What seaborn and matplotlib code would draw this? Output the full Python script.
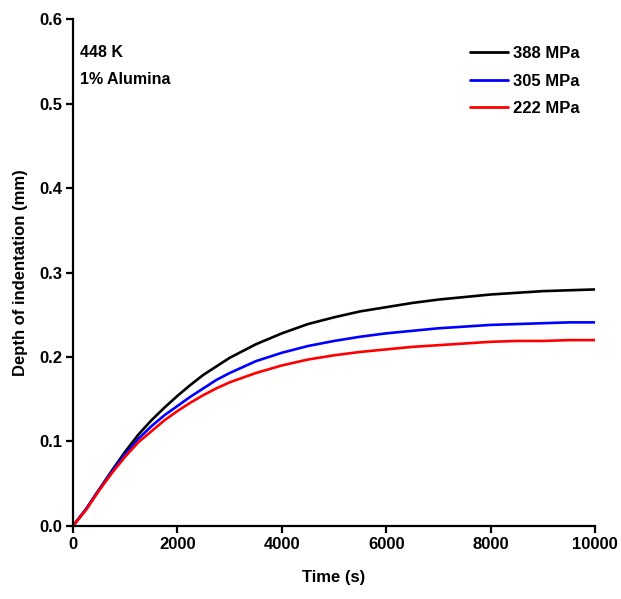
import matplotlib
matplotlib.use("Agg")
import matplotlib.pyplot as plt
import seaborn as sns
import pandas as pd

time_s = [0, 250, 500, 750, 1000, 1250, 1500, 1750, 2000, 2250, 2500, 2750, 3000, 3500, 4000,
          4500, 5000, 5500, 6000, 6500, 7000, 7500, 8000, 8500, 9000, 9500, 10000]
depth_388 = [0, 0.020, 0.043, 0.066, 0.088, 0.108, 0.125, 0.140, 0.154, 0.167, 0.179, 0.189, 0.199, 0.215, 0.228,
             0.239, 0.247, 0.254, 0.259, 0.264, 0.268, 0.271, 0.274, 0.276, 0.278, 0.279, 0.280]
depth_305 = [0, 0.020, 0.043, 0.065, 0.085, 0.103, 0.118, 0.131, 0.142, 0.153, 0.163, 0.173, 0.181, 0.195, 0.205,
             0.213, 0.219, 0.224, 0.228, 0.231, 0.234, 0.236, 0.238, 0.239, 0.240, 0.241, 0.241]
depth_222 = [0, 0.019, 0.042, 0.063, 0.082, 0.099, 0.112, 0.125, 0.136, 0.146, 0.155, 0.163, 0.170, 0.181, 0.190,
             0.197, 0.202, 0.206, 0.209, 0.212, 0.214, 0.216, 0.218, 0.219, 0.219, 0.220, 0.220]
series_labels = ["388 MPa", "305 MPa", "222 MPa"]
series_colors = ["#000000", "#0000ff", "#ff0000"]
x_ticks = [0, 2000, 4000, 6000, 8000, 10000]
y_ticks = [0.0, 0.1, 0.2, 0.3, 0.4, 0.5, 0.6]

rows = []
for lab, vals in zip(series_labels, [depth_388, depth_305, depth_222]):
    for t, v in zip(time_s, vals):
        rows.append({"Time": t, "Depth": v, "Stress": lab})
df = pd.DataFrame(rows)

sns.set_style("ticks")
plt.rcParams['font.family'] = ['Liberation Sans', 'DejaVu Sans']
plt.rcParams['font.weight'] = 'bold'
plt.rcParams['text.color'] = 'black'
plt.rcParams['axes.labelcolor'] = 'black'

fig = plt.figure(figsize=(6.21, 5.99), dpi=100)
ax = fig.add_axes([0.1176, 0.122, 0.8406, 0.846])

sns.lineplot(data=df, x="Time", y="Depth", hue="Stress", hue_order=series_labels,
             palette=series_colors, linewidth=1.9, ax=ax, legend=True)

ax.set_xlim(0, 10000)
ax.set_ylim(0, 0.6)
ax.set_xticks(x_ticks)
ax.set_xticklabels([str(t) for t in x_ticks])
ax.set_yticks(y_ticks)
ax.set_yticklabels([f"{v:.1f}" for v in y_ticks])
ax.set_xlabel("Time (s)", fontsize=12, fontweight='bold', labelpad=13, color='black')
ax.set_ylabel("Depth of indentation (mm)", fontsize=12, fontweight='bold', labelpad=8, color='black')

for s in ["top", "right"]:
    ax.spines[s].set_visible(False)
for s in ["left", "bottom"]:
    ax.spines[s].set_linewidth(1.6)
    ax.spines[s].set_color("black")
ax.tick_params(axis='both', direction='out', length=5, width=1.6, labelsize=12, colors='black', pad=3)
for lbl in ax.get_xticklabels() + ax.get_yticklabels():
    lbl.set_fontweight('bold')

ax.text(0.013, 0.935, "448 K", transform=ax.transAxes, fontsize=11.5, fontweight='bold', va='center', color='black')
ax.text(0.013, 0.88, "1% Alumina", transform=ax.transAxes, fontsize=11.5, fontweight='bold', va='center', color='black')

leg = ax.legend(loc='upper right', bbox_to_anchor=(1.0, 0.976), frameon=False,
                handlelength=2.3, handletextpad=0.3, labelspacing=0.75,
                prop={'size': 12, 'weight': 'bold'})
for line in leg.get_lines():
    line.set_linewidth(2.0)
for txt in leg.get_texts():
    txt.set_color('black')

fig.savefig("out.png", dpi=100)
